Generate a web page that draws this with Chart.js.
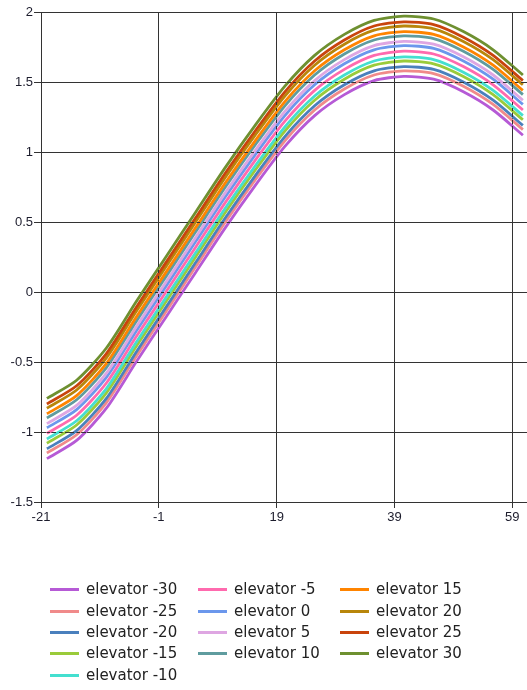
<!DOCTYPE html>
<html>
<head>
<meta charset="utf-8">
<script src="https://cdn.jsdelivr.net/npm/chart.js@4"></script>
<style>
  body { margin: 0; background: #fff; }
  #wrap { position: relative; width: 527px; height: 690px; }
  #legend { position: absolute; left: 0; top: 0; width: 527px; height: 690px; pointer-events: none;
            font-family: "DejaVu Sans", sans-serif; font-size: 15px; color: #222; }
  .item { position: absolute; height: 20px; line-height: 20px; white-space: nowrap; }
  .item span.sw { position: absolute; left: 0; top: 9px; width: 29px; height: 3px; }
  .item span.tx { position: absolute; left: 36px; top: 0; }
</style>
</head>
<body>
<div id="wrap">
  <canvas id="grafico" width="527" height="535"></canvas>
  <div id="legend"></div>
</div>
<script>
// valores
let xValores = [-20, -14.95, -9.9, -4.85, 0.2, 5.25, 10.3, 15.35, 20.4, 25.45, 30.5, 35.55, 40.6, 45.65, 50.7, 55.75, 60.8];
let xTicks = [-21, -1, 19, 39, 59];
let etiquetas = ["elevator -30", "elevator -25", "elevator -20", "elevator -15", "elevator -10", "elevator -5",
                 "elevator 0", "elevator 5", "elevator 10", "elevator 15", "elevator 20", "elevator 25", "elevator 30"];
let colores = ["#b65ad6", "#f08a8a", "#4a80bd", "#9acb3a", "#44dfcf", "#ff6aae",
               "#6b97ec", "#dea6e2", "#5f9c9f", "#ff8400", "#b8860b", "#c9440c", "#6e9030"];

let elevM30 = [-1.19, -1.06, -0.83, -0.50, -0.18, 0.14, 0.46, 0.76, 1.04, 1.26, 1.41, 1.51, 1.54, 1.52, 1.43, 1.30, 1.12];
let elevM25 = [-1.15, -1.02, -0.79, -0.46, -0.14, 0.18, 0.50, 0.80, 1.08, 1.30, 1.45, 1.55, 1.58, 1.56, 1.47, 1.34, 1.16];
let elevM20 = [-1.12, -0.99, -0.76, -0.43, -0.11, 0.21, 0.53, 0.83, 1.11, 1.33, 1.48, 1.58, 1.61, 1.59, 1.50, 1.37, 1.19];
let elevM15 = [-1.08, -0.95, -0.72, -0.39, -0.07, 0.25, 0.57, 0.87, 1.15, 1.37, 1.52, 1.62, 1.65, 1.63, 1.54, 1.41, 1.23];
let elevM10 = [-1.05, -0.92, -0.69, -0.36, -0.04, 0.28, 0.60, 0.90, 1.18, 1.40, 1.55, 1.65, 1.68, 1.66, 1.57, 1.44, 1.26];
let elevM5  = [-1.01, -0.88, -0.65, -0.32, 0.00, 0.32, 0.64, 0.94, 1.22, 1.44, 1.59, 1.69, 1.72, 1.70, 1.61, 1.48, 1.30];
let elev0   = [-0.97, -0.84, -0.61, -0.28, 0.04, 0.36, 0.68, 0.98, 1.26, 1.48, 1.63, 1.73, 1.76, 1.74, 1.65, 1.52, 1.34];
let elev5   = [-0.94, -0.81, -0.58, -0.25, 0.07, 0.39, 0.71, 1.01, 1.29, 1.51, 1.66, 1.76, 1.79, 1.77, 1.68, 1.55, 1.37];
let elev10  = [-0.90, -0.77, -0.54, -0.21, 0.11, 0.43, 0.75, 1.05, 1.33, 1.55, 1.70, 1.80, 1.83, 1.81, 1.72, 1.59, 1.41];
let elev15  = [-0.87, -0.74, -0.51, -0.18, 0.14, 0.46, 0.78, 1.08, 1.36, 1.58, 1.73, 1.83, 1.86, 1.84, 1.75, 1.62, 1.44];
let elev20  = [-0.83, -0.70, -0.47, -0.14, 0.18, 0.50, 0.82, 1.12, 1.40, 1.62, 1.77, 1.87, 1.90, 1.88, 1.79, 1.66, 1.48];
let elev25  = [-0.80, -0.67, -0.44, -0.11, 0.21, 0.53, 0.85, 1.15, 1.43, 1.65, 1.80, 1.90, 1.93, 1.91, 1.82, 1.69, 1.51];
let elev30  = [-0.76, -0.63, -0.40, -0.07, 0.25, 0.57, 0.89, 1.19, 1.47, 1.69, 1.84, 1.94, 1.97, 1.95, 1.86, 1.73, 1.55];

let series = [elevM30, elevM25, elevM20, elevM15, elevM10, elevM5, elev0, elev5, elev10, elev15, elev20, elev25, elev30];

let datasets = series.map((vals, i) => ({
    label: etiquetas[i],
    data: vals.map((v, k) => ({ x: xValores[k], y: v })),
    borderColor: colores[i],
    backgroundColor: colores[i],
    borderWidth: 2.8,
    pointRadius: 0,
    tension: 0.25,
    fill: false,
    order: 12 - i
}));

// rejilla punteada encima de las curvas
const rejillaEncima = {
    id: "rejillaEncima",
    afterDatasetsDraw(chart) {
        const ctx = chart.ctx;
        const area = chart.chartArea;
        const al = p => Math.round(p - 0.5) + 0.5;
        ctx.save();
        ctx.strokeStyle = "#333";
        ctx.lineWidth = 1;
        ctx.setLineDash([3, 3]);
        ctx.beginPath();
        chart.scales.x.ticks.forEach(t => {
            const px = al(chart.scales.x.getPixelForValue(t.value));
            ctx.moveTo(px, area.top);
            ctx.lineTo(px, area.bottom);
        });
        chart.scales.y.ticks.forEach(t => {
            const py = al(chart.scales.y.getPixelForValue(t.value));
            ctx.moveTo(area.left, py);
            ctx.lineTo(area.right, py);
        });
        ctx.stroke();
        ctx.restore();
    }
};

let ctx = document.getElementById("grafico").getContext("2d");
let miGrafico = new Chart(ctx, {
    type: "line",
    data: { datasets: datasets },
    plugins: [rejillaEncima],
    options: {
        responsive: false,
        animation: false,
        layout: { padding: { top: 12, right: 0, left: 0, bottom: 0 } },
        plugins: { legend: { display: false }, tooltip: { enabled: false } },
        scales: {
            x: {
                type: "linear",
                min: -21,
                max: 61.5,
                afterBuildTicks: s => { s.ticks = xTicks.map(v => ({ value: v })); },
                afterFit: s => { s.height = 33; },
                grid: { color: "#333", lineWidth: 1, tickLength: 6 },
                border: { color: "#333" },
                ticks: { padding: 2, color: "#1c1c2c", font: { family: "Liberation Sans", size: 13 }, maxRotation: 0 }
            },
            y: {
                min: -1.5,
                max: 2,
                ticks: {
                    stepSize: 0.5, padding: 1, color: "#1c1c2c",
                    font: { family: "Liberation Sans", size: 13 },
                    callback: v => String(v)
                },
                afterFit: s => { s.width = 41; },
                grid: { color: "#333", lineWidth: 1, tickLength: 7 },
                border: { color: "#333" }
            }
        }
    }
});

// leyenda en columnas: 5, 4 y 4 elementos
let leyenda = document.getElementById("legend");
let colX = [50, 198, 340];
let filaY = [579, 601, 622, 643, 665];
let inicioCol = [0, 5, 9];
miGrafico.data.datasets.forEach((ds, i) => {
    let col = i < 5 ? 0 : (i < 9 ? 1 : 2);
    let fila = i - inicioCol[col];
    let div = document.createElement("div");
    div.className = "item";
    div.style.left = colX[col] + "px";
    div.style.top = filaY[fila] + "px";
    div.innerHTML = `<span class="sw" style="background:${ds.borderColor}"></span><span class="tx">${ds.label}</span>`;
    leyenda.appendChild(div);
});
</script>
</body>
</html>
